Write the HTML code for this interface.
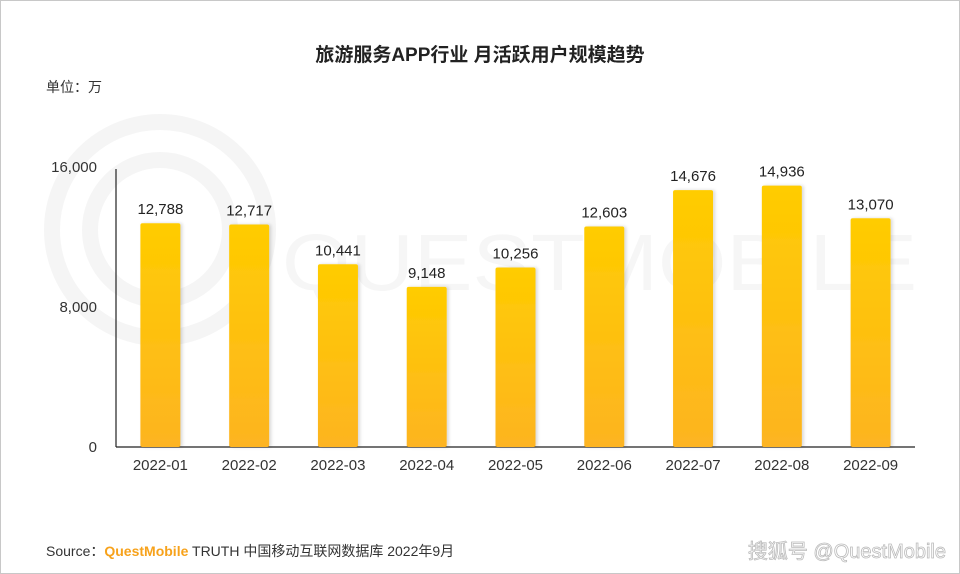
<!DOCTYPE html>
<html><head><meta charset="utf-8"><style>
body{margin:0;width:960px;height:574px;overflow:hidden;background:#fff;font-family:"Liberation Sans","Noto Sans CJK SC",sans-serif}
#frame{position:absolute;left:0;top:0;width:958px;height:572px;border:1px solid #c8c8c8}
</style></head><body>
<div id="frame"></div>
<svg id="c" width="960" height="574" style="position:absolute;left:0;top:0">
<defs><linearGradient id="g" x1="0" y1="0" x2="0" y2="1"><stop offset="0" stop-color="#ffcc00"/><stop offset="1" stop-color="#fdb421"/></linearGradient>
<filter id="sh" x="-20%" y="-5%" width="150%" height="110%"><feDropShadow dx="2" dy="0" stdDeviation="1.5" flood-color="#000" flood-opacity="0.15"/></filter></defs>
<g fill="none" stroke="#f5f5f5" stroke-width="16">
<circle cx="160" cy="230" r="108"/><circle cx="160" cy="230" r="70"/>
<text x="282" y="290" font-size="80" fill="#f6f6f6" stroke="none" textLength="635" lengthAdjust="spacingAndGlyphs">QUESTMOBILE</text>
</g>
<text x="480" y="61" text-anchor="middle" font-size="19" font-weight="bold" fill="#222">旅游服务APP行业 月活跃用户规模趋势</text>
<text x="46" y="92" font-size="14" fill="#333">单位：万</text>
<g id="axes"></g><g id="bars"></g>
<text x="46" y="556" font-size="14" fill="#333">Source：<tspan fill="#f7a21b" font-weight="bold">QuestMobile</tspan> TRUTH 中国移动互联网数据库 2022年9月</text>
<text x="946" y="558" text-anchor="end" font-size="20" fill="#fff" stroke="#bbb" stroke-width="0.8">搜狐号 @QuestMobile</text>
</svg>
<script>
const categories=["2022-01","2022-02","2022-03","2022-04","2022-05","2022-06","2022-07","2022-08","2022-09"];
const values=[12788,12717,10441,9148,10256,12603,14676,14936,13070];
const valueLabels=["12,788","12,717","10,441","9,148","10,256","12,603","14,676","14,936","13,070"];
const yTicks=[0,8000,16000];
const yTickLabels=["0","8,000","16,000"];
const NS="http://www.w3.org/2000/svg";
const x0=116,x1=915,yb=447,yt=167,ymax=16000;
const y=v=>yb-(v/ymax)*(yb-yt);
const bw=(x1-x0)/categories.length;
const xc=i=>x0+bw*(i+0.5);
function mk(t,a,p){const e=document.createElementNS(NS,t);for(const k in a)e.setAttribute(k,a[k]);p.appendChild(e);return e;}
const ax=document.getElementById('axes'),bg=document.getElementById('bars');
const yl=mk('line',{x1:x0,x2:x0,y1:169,y2:yb,stroke:'#222','stroke-width':1.2},ax);


const xl=mk('line',{x1:x0,x2:x1,y1:yb,y2:yb,stroke:'#222','stroke-width':1.2},ax);


yTicks.forEach((v,i)=>{const t=mk('text',{x:97,y:y(v)+5,'text-anchor':'end','font-size':15,fill:'#333'},ax);t.textContent=yTickLabels[i];

});
categories.forEach((c,i)=>{
const r=mk('rect',{x:xc(i)-20,y:y(values[i]),width:40,height:yb-y(values[i]),fill:'url(#g)',rx:2,filter:'url(#sh)'},bg);


const l=mk('text',{x:xc(i),y:y(values[i])-9,'text-anchor':'middle','font-size':15,fill:'#222'},bg);l.textContent=valueLabels[i];


const t=mk('text',{x:xc(i),y:470,'text-anchor':'middle','font-size':15,fill:'#333'},bg);t.textContent=c;


});
</script>
</body></html>
